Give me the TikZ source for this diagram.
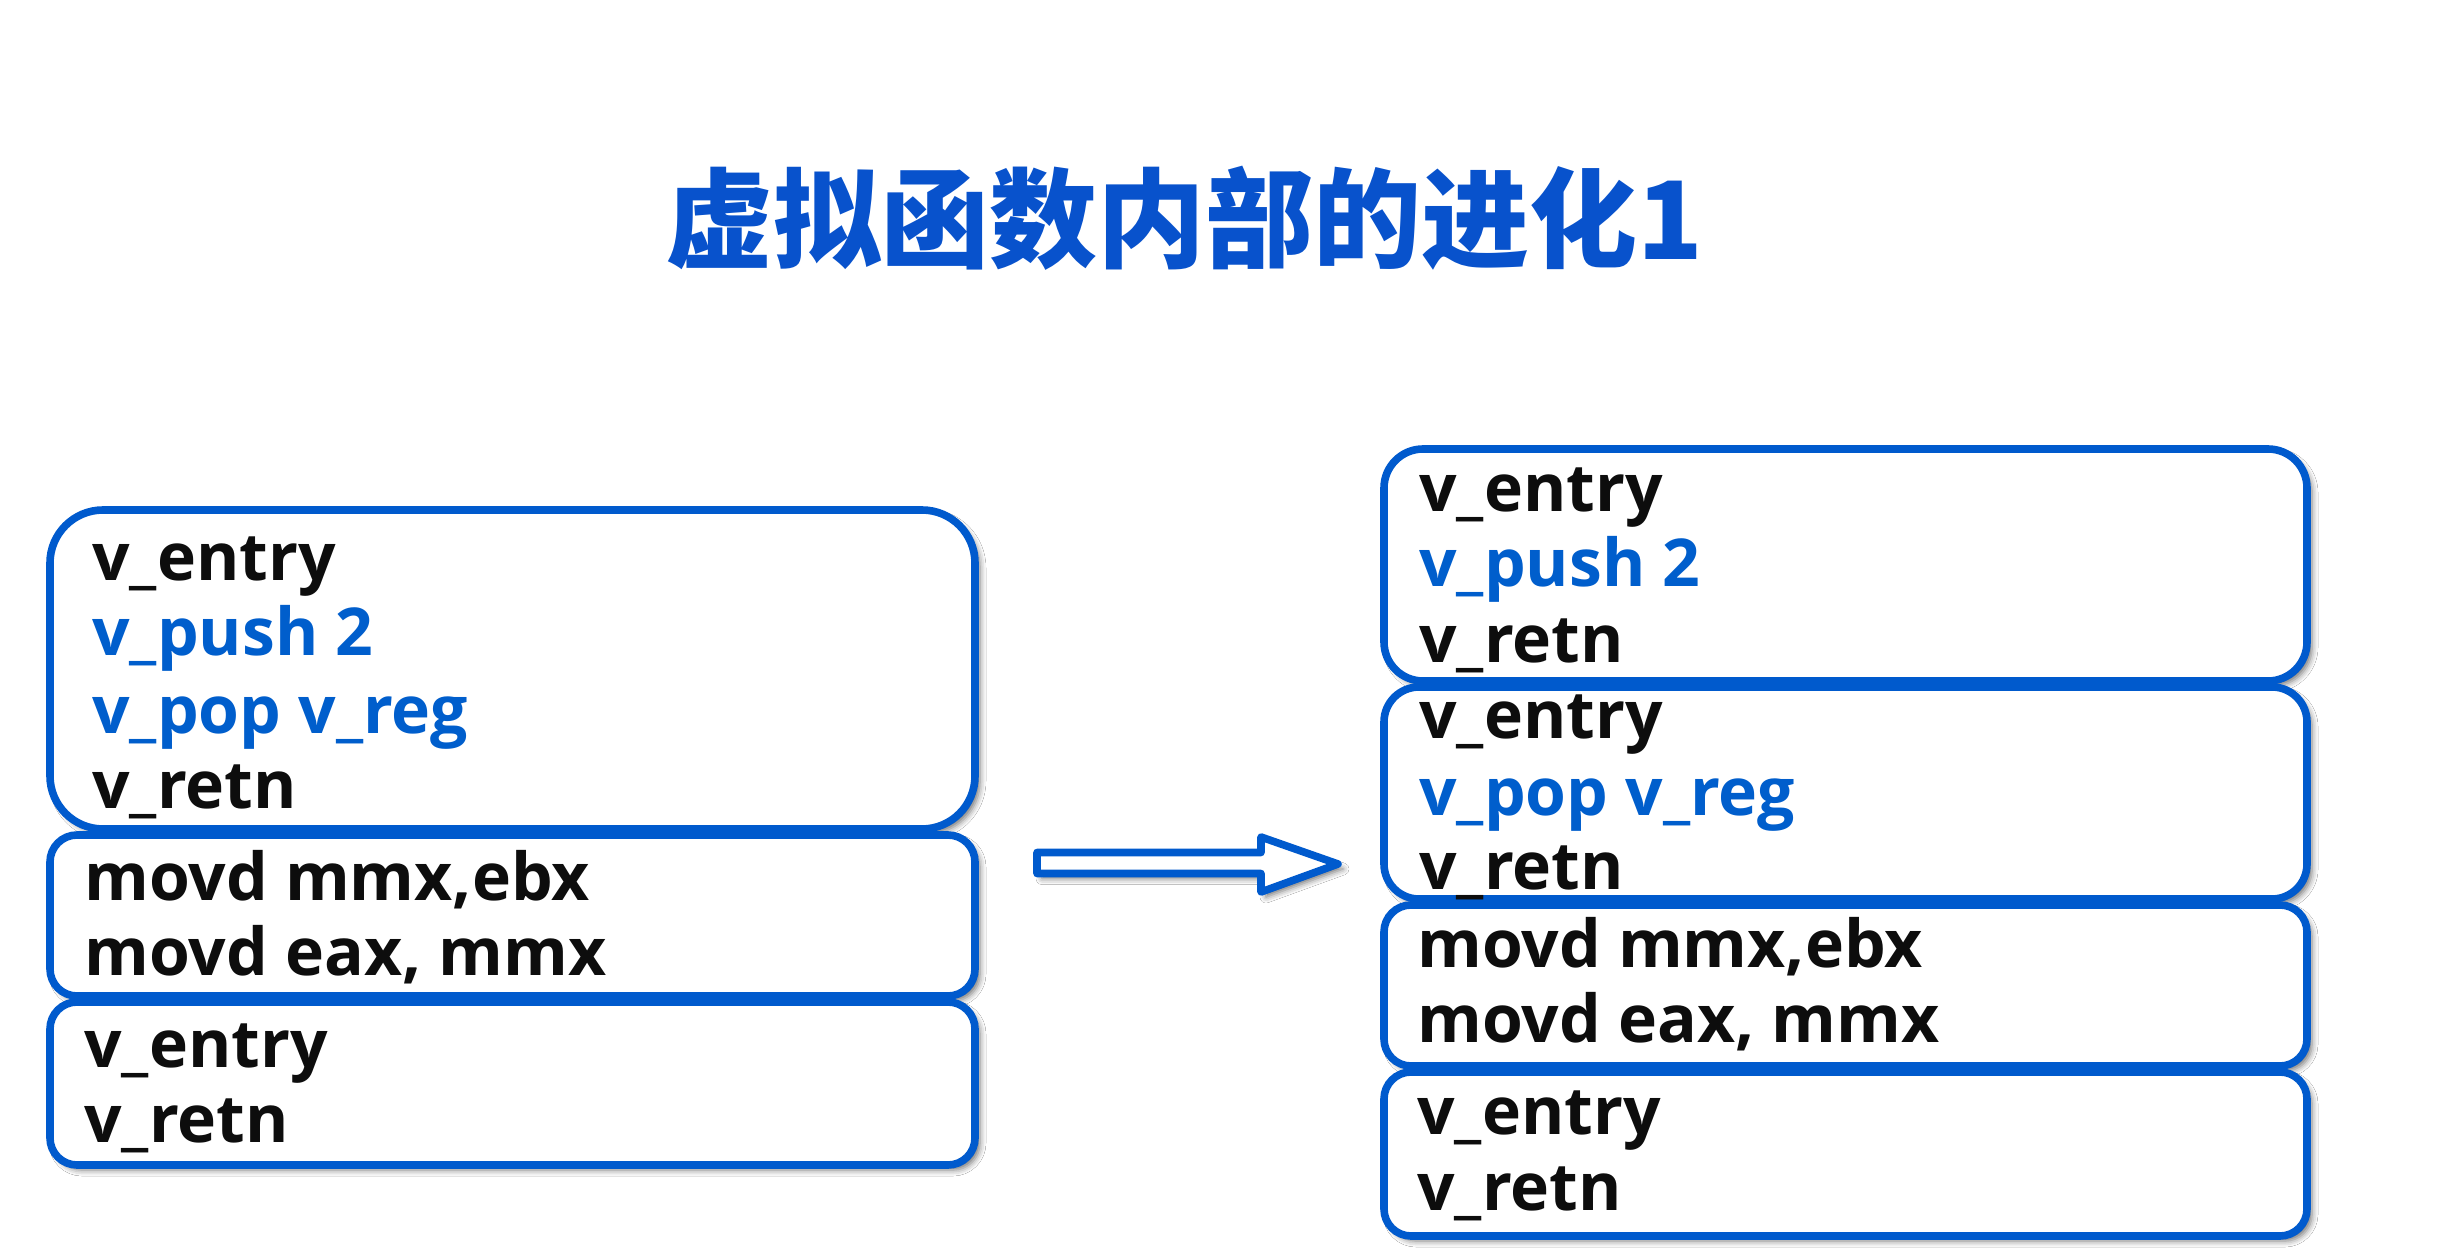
\documentclass[tikz,border=0pt]{standalone}
\usepackage{fontspec}
\setmainfont{Open Sans}
\newfontfamily\cjk{Noto Sans CJK SC}
\usetikzlibrary{shadows.blur}
\definecolor{bdr}{RGB}{0,90,205}
\definecolor{ttl}{RGB}{8,82,204}
\definecolor{btxt}{RGB}{0,94,204}
\definecolor{ktxt}{RGB}{13,13,13}
\begin{document}
\begin{tikzpicture}[x=0.5pt,y=-0.5pt,
  box/.style={draw=bdr, line width=3.8pt, fill=white, inner sep=0pt,
    blur shadow={shadow xshift=2.5pt, shadow yshift=-2.5pt, shadow blur radius=3pt, shadow opacity=55}},
  ln/.style={anchor=base west, inner sep=0pt, font=\bfseries\fontsize{33}{38}\selectfont, text=ktxt},
  bl/.style={ln, text=btxt}]
\useasboundingbox[fill=white] (0,0) rectangle (2442,1257);
% title
\node[font=\cjk\bfseries\fontsize{54}{60}\selectfont, text=ttl, inner sep=0pt] (title) at (1184,218) {虚拟函数内部的进化1};
% left boxes
\node[box, minimum width=462.5pt, minimum height=159.5pt, rounded corners=26.5pt] (L1) at (512.5,669.5) {};
\node[box, minimum width=462.5pt, minimum height=80.5pt, rounded corners=13.5pt] (L2) at (512.5,915.5) {};
\node[box, minimum width=462.5pt, minimum height=81.5pt, rounded corners=13.5pt] (L3) at (512.5,1083.5) {};
% right boxes
\node[box, minimum width=461.5pt, minimum height=116pt, rounded corners=19.5pt] (R1) at (1845.5,565) {};
\node[box, minimum width=461.5pt, minimum height=106pt, rounded corners=17.5pt] (R2) at (1845.5,793) {};
\node[box, minimum width=461.5pt, minimum height=80.5pt, rounded corners=13.5pt] (R3) at (1845.5,985.5) {};
\node[box, minimum width=461.5pt, minimum height=82pt, rounded corners=13.5pt] (R4) at (1845.5,1154) {};
% left texts
\node[ln] (L1a) at (92,580) {v\_entry};
\node[bl] (L1b) at (92,655) {v\_push 2};
\node[bl] (L1c) at (92,733) {v\_pop v\_reg};
\node[ln] (L1d) at (92,808) {v\_retn};
\node[ln] (L2a) at (84,900) {movd mmx,ebx};
\node[ln] (L2b) at (84,975) {movd eax, mmx};
\node[ln] (L3a) at (84,1067) {v\_entry};
\node[ln] (L3b) at (84,1142) {v\_retn};
% right texts
\node[ln] (R1a) at (1419,511) {v\_entry};
\node[bl] (R1b) at (1419,586) {v\_push 2};
\node[ln] (R1c) at (1419,662) {v\_retn};
\node[ln] (R2a) at (1419,738) {v\_entry};
\node[bl] (R2b) at (1419,815) {v\_pop v\_reg};
\node[ln] (R2c) at (1419,889) {v\_retn};
\node[ln] (R3a) at (1417,967) {movd mmx,ebx};
\node[ln] (R3b) at (1417,1042) {movd eax, mmx};
\node[ln] (R4a) at (1417,1134) {v\_entry};
\node[ln] (R4b) at (1417,1210) {v\_retn};
% arrow
\coordinate (as) at (1037,863);
\coordinate (ae) at (1338,864);
\draw[draw=bdr, line width=3.8pt, line join=round, fill=white,
  blur shadow={shadow xshift=2.5pt, shadow yshift=-2.5pt, shadow blur radius=3pt, shadow opacity=55}]
  (as) ++(0,-10.5) -- (1261,852.5) -- (1261,837) -- (ae) -- (1261,892) -- (1261,873.5) -- ($(as)+(0,10.5)$) -- cycle;
\end{tikzpicture}
\end{document}
